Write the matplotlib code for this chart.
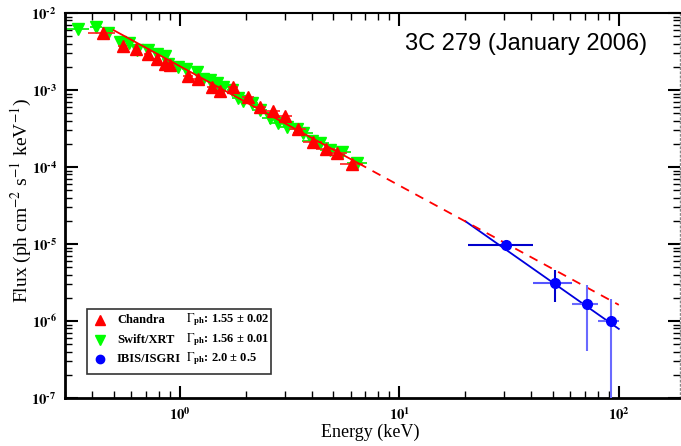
import matplotlib
matplotlib.use("Agg")
import matplotlib.pyplot as plt
import numpy as np
from matplotlib.patches import Rectangle
from matplotlib.ticker import FixedLocator, LogLocator, NullFormatter

plt.rcParams['mathtext.fontset'] = 'stix'
plt.rcParams['font.family'] = ['Liberation Serif', 'DejaVu Serif']

# ---- data ----
swift_E = [0.345, 0.417, 0.47, 0.532, 0.59, 0.64, 0.714, 0.785, 0.854, 0.88, 0.98, 1.07,
           1.2, 1.27, 1.37, 1.47, 1.57, 1.73, 1.84, 1.94, 2.13, 2.32, 2.58, 2.81, 3.08,
           3.43, 3.66, 4.0, 4.37, 4.85, 5.5, 6.45]
swift_F = [6.2e-3, 6.6e-3, 5.5e-3, 4.2e-3, 4.1e-3, 3.3e-3, 3.3e-3, 2.9e-3, 2.8e-3, 2.2e-3,
           2.0e-3, 1.9e-3, 1.7e-3, 1.4e-3, 1.35e-3, 1.23e-3, 1.1e-3, 1.0e-3, 7.9e-4, 7.2e-4,
           6.8e-4, 5.5e-4, 4.3e-4, 3.7e-4, 3.3e-4, 3.1e-4, 2.8e-4, 2.2e-4, 2.05e-4, 1.65e-4,
           1.55e-4, 1.12e-4]
swift_dE = [0.12, 0.06, 0.04, 0.03, 0.03, 0.03, 0.03, 0.03, 0.03, 0.03, 0.03, 0.04,
            0.04, 0.04, 0.04, 0.05, 0.05, 0.05, 0.06, 0.06, 0.07, 0.08, 0.08, 0.09, 0.1,
            0.1, 0.1, 0.1, 0.1, 0.1, 0.1, 0.1]

chandra_E = [0.445, 0.55, 0.635, 0.714, 0.785, 0.854, 0.9, 1.09, 1.21, 1.4, 1.52, 1.75,
             2.05, 2.32, 2.66, 3.02, 3.46, 4.06, 4.65, 5.2, 6.1]
chandra_F = [5.5e-3, 3.7e-3, 3.4e-3, 2.9e-3, 2.5e-3, 2.2e-3, 2.1e-3, 1.5e-3, 1.4e-3,
             1.1e-3, 9.7e-4, 1.1e-3, 8.1e-4, 6.0e-4, 5.3e-4, 4.6e-4, 3.1e-4, 2.1e-4,
             1.7e-4, 1.5e-4, 1.1e-4]
chandra_dE = [0.14, 0.05, 0.04, 0.04, 0.04, 0.04, 0.04, 0.05, 0.05, 0.05, 0.05, 0.05,
              0.06, 0.07, 0.08, 0.08, 0.09, 0.1, 0.1, 0.11, 0.12]

isgri_E = [30.7, 51.0, 71.3, 91.9]
isgri_F = [9.7e-6, 3.12e-6, 1.66e-6, 1.0e-6]
isgri_Elo = [20.5, 40.8, 61.5, 80.8]
isgri_Ehi = [40.8, 61.5, 80.8, 100.0]
isgri_Flo = [8.6e-6, 1.77e-6, 4.1e-7, 1.0e-8]
isgri_Fhi = [1.1e-5, 4.6e-6, 2.95e-6, 1.95e-6]
isgri_xcol = ['#0000cc', '#5555ff', '#6a6aff', '#6a6aff']
isgri_ycol = ['#6a6aff', '#0000cc', '#6a6aff', '#6a6aff']

# power-law fits
x_K, x_gamma = 2.04e-3, 1.55
i_K, i_gamma = 7.9e-3, 2.0
x_solid = [0.5, 6.5]
x_dash = [6.5, 100.0]
i_range = [20.0, 100.0]

x_ticks = [1, 10, 100]
x_exps = [0, 1, 2]
y_ticks = [1e-7, 1e-6, 1e-5, 1e-4, 1e-3, 1e-2]
y_exps = [-7, -6, -5, -4, -3, -2]

legend_names = ['Chandra', 'Swift/XRT', 'IBIS/ISGRI']
legend_gammas = ['1.55 \u00b1 0.02', '1.56 \u00b1 0.01', '2.0 \u00b1 0.5']

# ---- figure ----
fig = plt.figure(figsize=(6.81, 4.46), dpi=100)
ax = fig.add_axes([65/681, 1-398/446, 615/681, 385/446])
ax.set_xscale('log')
ax.set_yscale('log')
ax.set_xlim(0.3, 190)
ax.set_ylim(1e-7, 1e-2)

# fits
e = np.logspace(np.log10(x_solid[0]), np.log10(x_solid[1]), 50)
ax.plot(e, x_K * e**-x_gamma, color='#ff0000', lw=1.3, zorder=4)
e = np.logspace(np.log10(x_dash[0]), np.log10(x_dash[1]), 50)
ax.plot(e, x_K * e**-x_gamma, color='#ff0000', lw=1.3, ls=(0, (5, 4)), zorder=4)
e = np.logspace(np.log10(i_range[0]), np.log10(i_range[1]), 50)
ax.plot(e, i_K * e**-i_gamma, color='#0000dd', lw=1.3, zorder=3)

# Swift
sE = np.array(swift_E); sF = np.array(swift_F); sd = np.array(swift_dE)
ax.errorbar(sE, sF, xerr=sd * sE, fmt='none', ecolor='#00ee00', elinewidth=1.2, zorder=2)
ax.plot(sE, sF, ls='none', marker='v', ms=8, color='#00ff00', mec='#00ff00', zorder=2)

# Chandra
cE = np.array(chandra_E); cF = np.array(chandra_F); cd = np.array(chandra_dE)
ax.errorbar(cE, cF, xerr=cd * cE, fmt='none', ecolor='#ff2020', elinewidth=1.2, zorder=3)
ax.plot(cE, cF, ls='none', marker='^', ms=8, color='#ff0000', mec='#ff0000', zorder=3)

# ISGRI
for E, F, elo, ehi, flo, fhi, cx, cy in zip(isgri_E, isgri_F, isgri_Elo, isgri_Ehi,
                                            isgri_Flo, isgri_Fhi, isgri_xcol, isgri_ycol):
    ax.errorbar([E], [F], xerr=[[E - elo], [ehi - E]], fmt='none', ecolor=cx,
                elinewidth=1.5, zorder=5)
    ax.errorbar([E], [F], yerr=[[F - flo], [fhi - F]], fmt='none', ecolor=cy,
                elinewidth=1.5, zorder=5)
ax.plot(isgri_E, isgri_F, ls='none', marker='o', ms=7, color='#0000ff', zorder=6)

# ticks
HY = '\u2010'
def tick_lab(k):
    s = ('%s%d' % (HY, -k)) if k < 0 else '%d' % k
    return r'$\mathbf{10^{' + s + r'}}$'

ax.xaxis.set_major_locator(FixedLocator(x_ticks))
ax.yaxis.set_major_locator(FixedLocator(y_ticks))
ax.xaxis.set_minor_locator(LogLocator(base=10, subs=np.arange(2, 10), numticks=20))
ax.yaxis.set_minor_locator(LogLocator(base=10, subs=np.arange(2, 10), numticks=20))
ax.xaxis.set_minor_formatter(NullFormatter())
ax.yaxis.set_minor_formatter(NullFormatter())
ax.set_xticklabels([tick_lab(k) for k in x_exps], fontsize=10.5)
ax.set_yticklabels([tick_lab(k) for k in y_exps], fontsize=10.5)
ax.tick_params(which='both', direction='in', top=True, right=True)
ax.tick_params(which='major', length=9, width=1.5, pad=6)
ax.tick_params(which='minor', length=5, width=1.0)

for s in ['left', 'bottom']:
    ax.spines[s].set_linewidth(2.0)
ax.spines['top'].set_linewidth(1.5)
ax.spines['right'].set_linewidth(1.0)
ax.spines['right'].set_color('#888888')
ax.spines['right'].set_linestyle((0, (1, 2)))

fig.text(370/681, 1-432/446, 'Energy (keV)', fontsize=13, ha='center', va='center')
fig.text(21/681, 1-200/446, r'Flux (ph cm$^{-2}$ s$^{-1}$ keV$^{-1}$)', fontsize=14,
         ha='center', va='center', rotation=90)

ax.text(0.946, 0.919, '3C 279 (January 2006)', transform=ax.transAxes, ha='right',
        va='center', fontsize=17, family=['Liberation Sans', 'DejaVu Sans'])

# legend box (manual)
def px2ax(x, y):
    return ((x - 65) / 615, (398 - y) / 385)

x0, y0 = px2ax(87, 374)
x1, y1 = px2ax(271, 309)
ax.add_patch(Rectangle((x0, y0), x1 - x0, y1 - y0, transform=ax.transAxes,
                       fill=True, fc='white', ec='#333333', lw=1.2, zorder=10))
leg_markers = [('^', '#ff0000'), ('v', '#00ff00'), ('o', '#0000ff')]
rows_y = [320, 340, 359]
for (m, c), name, g, ry in zip(leg_markers, legend_names, legend_gammas, rows_y):
    mx, my = px2ax(100, ry)
    ax.plot([mx], [my], marker=m, color=c, ms=7 if m != 'o' else 6, ls='none',
            transform=ax.transAxes, zorder=11, clip_on=False)
    tx, ty = px2ax(117, ry)
    ax.text(tx, ty, name, transform=ax.transAxes, fontsize=9, fontweight='bold',
            va='center', ha='left', zorder=11)
    gx, gy = px2ax(186, ry)
    ax.text(gx, gy, r'$\Gamma_{\mathbf{ph}}$: ' + g,
            transform=ax.transAxes, fontsize=9, fontweight='bold',
            va='center', ha='left', zorder=11)

fig.savefig('out.png', dpi=100)
